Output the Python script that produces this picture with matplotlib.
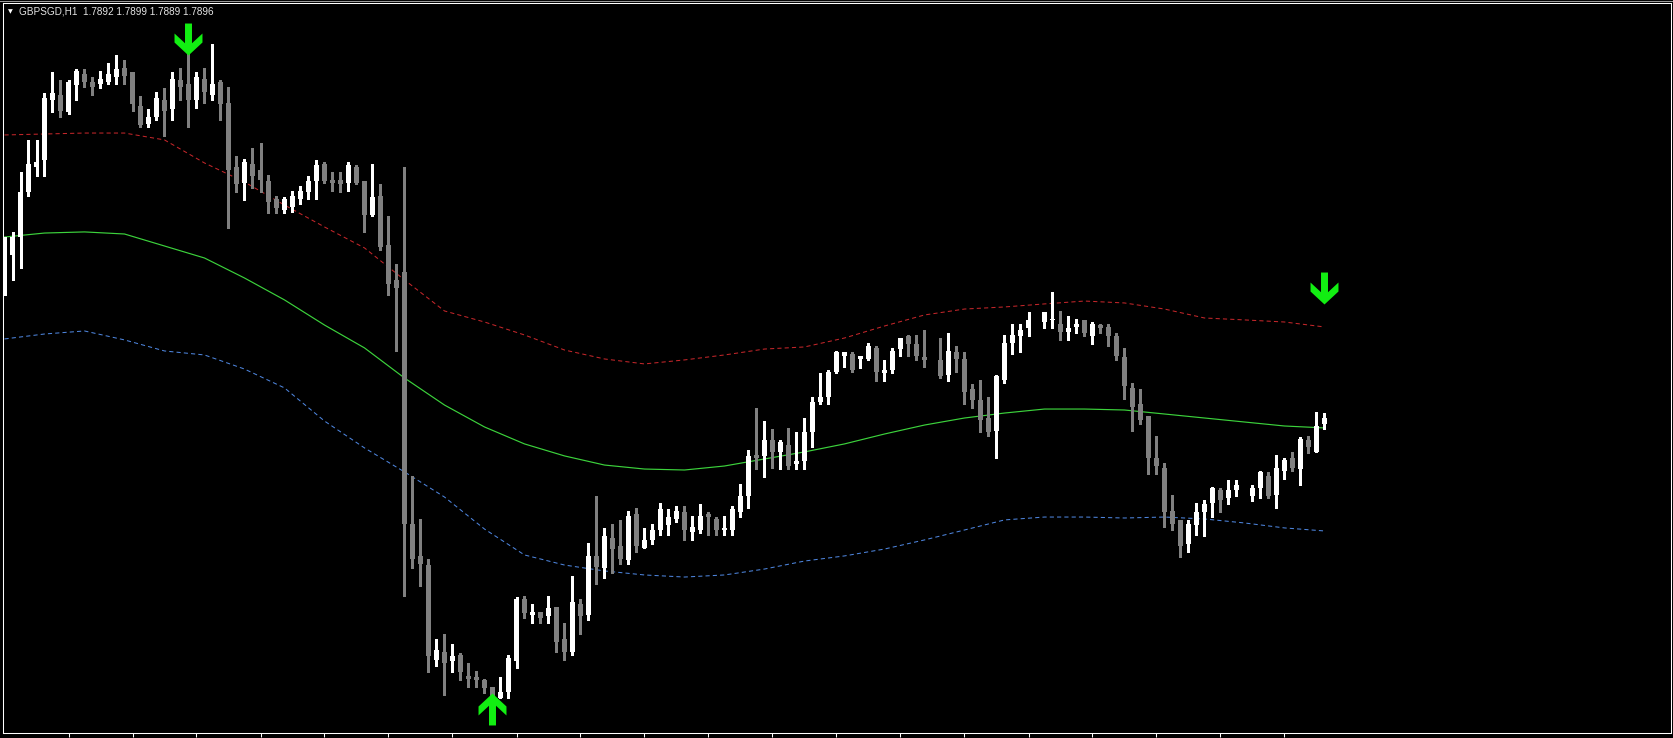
import numpy as np
import matplotlib
matplotlib.use("Agg")
import matplotlib.pyplot as plt
from matplotlib.path import Path
from matplotlib.lines import Line2D

nan = float("nan")

symbol = "GBPSGD,H1"

opens = [1.7974,1.7998,1.8009,1.8037,1.8053,1.8057,1.8095,1.8098,1.8087,1.8104,
 1.8111,1.8106,1.8105,1.8106,1.8109,1.8115,1.8112,1.8091,1.8080,1.8084,
 1.8095,1.8089,1.8107,1.8105,1.8095,1.8108,1.8098,1.8106,1.8093,1.8053,
 1.8043,1.8055,1.8051,1.8044,1.8033,1.8026,1.8028,1.8033,1.8037,1.8044,
 1.8055,1.8045,1.8045,1.8043,1.8053,1.8044,1.8023,1.8035,1.8004,1.7982,
 1.7987,1.7830,1.7810,1.7804,1.7745,1.7750,1.7744,1.7748,1.7735,1.7734,
 1.7732,1.7728,1.7721,1.7725,1.7744,1.7783,1.7773,1.7775,1.7772,1.7778,
 1.7758,1.7750,1.7780,1.7773,1.7810,1.7802,1.7821,1.7816,1.7807,1.7836,
 1.7815,1.7820,1.7826,1.7829,1.7833,1.7837,1.7825,1.7826,1.7836,1.7833,
 1.7826,1.7826,1.7837,1.7847,1.7873,1.7872,1.7882,1.7875,1.7879,1.7867,
 1.7869,1.7887,1.7906,1.7909,1.7925,1.7935,1.7936,1.7933,1.7933,1.7940,
 1.7924,1.7926,1.7939,1.7947,1.7942,1.7934,nan,1.7932,1.7923,1.7937,
 1.7933,1.7914,1.7907,1.7896,1.7888,1.7920,1.7943,1.7947,1.7952,nan,
 1.7956,1.7957,1.7955,1.7950,1.7953,1.7957,1.7947,1.7954,1.7953,1.7947,
 1.7934,1.7915,1.7905,1.7897,1.7871,1.7865,1.7838,1.7832,1.7817,1.7829,
 1.7837,1.7843,1.7851,1.7846,1.7851,nan,1.7847,1.7852,1.7860,1.7848,
 1.7863,1.7871,1.7864,1.7882,1.7875,1.7892]

highs = [1.8009,1.8012,1.8050,1.8070,1.8070,1.8099,1.8112,1.8107,1.8107,1.8114,
 1.8114,1.8109,1.8113,1.8118,1.8123,1.8120,1.8112,1.8097,1.8089,1.8100,
 1.8102,1.8112,1.8115,1.8130,1.8112,1.8115,1.8130,1.8107,1.8103,1.8060,
 1.8058,1.8065,1.8068,1.8048,1.8035,1.8034,1.8038,1.8041,1.8047,1.8057,
 1.8056,1.8050,1.8050,1.8056,1.8054,1.8044,1.8055,1.8042,1.8022,1.7992,
 1.8053,1.7860,1.7833,1.7808,1.7758,1.7761,1.7755,1.7749,1.7743,1.7738,
 1.7733,1.7728,1.7734,1.7748,1.7784,1.7785,1.7780,1.7775,1.7785,1.7778,
 1.7768,1.7797,1.7783,1.7818,1.7847,1.7827,1.7830,1.7832,1.7838,1.7840,
 1.7827,1.7830,1.7843,1.7839,1.7841,1.7841,1.7835,1.7842,1.7837,1.7834,
 1.7835,1.7841,1.7855,1.7876,1.7902,1.7894,1.7889,1.7882,1.7890,1.7887,
 1.7896,1.7909,1.7924,1.7926,1.7938,1.7937,1.7937,1.7935,1.7943,1.7941,
 1.7932,1.7940,1.7946,1.7948,1.7948,1.7951,nan,1.7946,1.7949,1.7941,
 1.7937,1.7917,1.7920,1.7909,1.7923,1.7948,1.7955,1.7955,1.7962,nan,
 1.7962,1.7975,1.7963,1.7960,1.7958,1.7957,1.7956,1.7955,1.7955,1.7949,
 1.7940,1.7918,1.7914,1.7897,1.7885,1.7868,1.7848,1.7832,1.7832,1.7843,
 1.7845,1.7853,1.7852,1.7857,1.7857,nan,1.7854,1.7863,1.7862,1.7873,
 1.7871,1.7875,1.7884,1.7885,1.7900,1.7899]

lows = [1.7973,1.7982,1.7990,1.8035,1.8047,1.8047,1.8087,1.8084,1.8086,1.8095,
 1.8103,1.8098,1.8102,1.8105,1.8105,1.8105,1.8088,1.8078,1.8078,1.8082,
 1.8072,1.8082,1.8095,1.8078,1.8090,1.8093,1.8095,1.8082,1.8015,1.8037,
 1.8032,1.8040,1.8037,1.8024,1.8024,1.8024,1.8025,1.8030,1.8033,1.8033,
 1.8043,1.8038,1.8037,1.8038,1.8042,1.8012,1.8022,1.8001,1.7973,1.7938,
 1.7785,1.7802,1.7791,1.7737,1.7741,1.7723,1.7737,1.7732,1.7728,1.7728,
 1.7724,1.7720,1.7721,1.7721,1.7740,1.7771,1.7768,1.7768,1.7768,1.7750,
 1.7745,1.7748,1.7761,1.7770,1.7792,1.7796,1.7799,1.7805,1.7805,1.7812,
 1.7815,1.7817,1.7823,1.7823,1.7831,1.7820,1.7820,1.7824,1.7823,1.7823,
 1.7823,1.7823,1.7834,1.7840,1.7864,1.7859,1.7865,1.7864,1.7864,1.7864,
 1.7864,1.7878,1.7905,1.7905,1.7924,1.7928,1.7925,1.7927,1.7932,1.7919,
 1.7919,1.7924,1.7935,1.7935,1.7932,1.7928,nan,1.7921,1.7919,1.7925,
 1.7905,1.7902,1.7887,1.7885,1.7871,1.7918,1.7936,1.7937,1.7947,nan,
 1.7952,1.7952,1.7945,1.7945,1.7949,1.7947,1.7942,1.7949,1.7941,1.7932,
 1.7908,1.7888,1.7892,1.7861,1.7861,1.7828,1.7826,1.7809,1.7812,1.7823,
 1.7822,1.7834,1.7837,1.7842,1.7847,nan,1.7844,1.7846,1.7846,1.7840,
 1.7858,1.7863,1.7854,1.7874,1.7875,1.7889]

closes = [1.7999,1.8009,1.8037,1.8055,1.8056,1.8096,1.8099,1.8088,1.8106,1.8113,
 1.8106,1.8103,1.8108,1.8111,1.8114,1.8110,1.8092,1.8079,1.8084,1.8096,
 1.8088,1.8108,1.8103,1.8095,1.8109,1.8100,1.8105,1.8092,1.8051,1.8042,
 1.8056,1.8047,1.8045,1.8031,1.8027,1.8033,1.8035,1.8038,1.8044,1.8054,
 1.8044,1.8043,1.8042,1.8054,1.8043,1.8023,1.8034,1.8003,1.7980,1.7977,
 1.7830,1.7808,1.7805,1.7747,1.7751,1.7743,1.7747,1.7737,1.7733,1.7732,
 1.7727,1.7722,1.7725,1.7746,1.7783,1.7774,1.7775,1.7771,1.7777,1.7756,
 1.7750,1.7781,1.7772,1.7810,1.7803,1.7822,1.7814,1.7808,1.7835,1.7816,
 1.7820,1.7826,1.7839,1.7834,1.7838,1.7826,1.7828,1.7835,1.7834,1.7826,
 1.7827,1.7839,1.7847,1.7872,1.7871,1.7882,1.7875,1.7881,1.7866,1.7869,
 1.7887,1.7906,1.7909,1.7925,1.7937,1.7937,1.7926,1.7935,1.7941,1.7925,
 1.7926,1.7938,1.7946,1.7942,1.7935,1.7932,nan,1.7922,1.7938,1.7933,
 1.7912,1.7907,1.7895,1.7887,1.7922,1.7943,1.7948,1.7951,1.7957,nan,
 1.7962,1.7958,1.7950,1.7952,1.7955,1.7949,1.7955,1.7952,1.7947,1.7935,
 1.7916,1.7903,1.7895,1.7871,1.7866,1.7837,1.7830,1.7816,1.7830,1.7837,
 1.7842,1.7852,1.7845,1.7851,1.7854,nan,1.7852,1.7862,1.7847,1.7865,
 1.7870,1.7865,1.7883,1.7878,1.7891,1.7896]

# indicator band values, read every 5 bars
band_bars = [0, 5, 10, 15, 20, 25, 30, 35, 40, 45, 50, 55, 60, 65, 70, 75, 80,
             85, 90, 95, 100, 105, 110, 115, 120, 125, 130, 135, 140, 145, 150,
             155, 160, 165]
upper_band = [1.80729, 1.80735, 1.80741, 1.80741, 1.80698, 1.80554, 1.80435,
              1.80291, 1.80154, 1.80023, 1.79823, 1.79629, 1.79560, 1.79479,
              1.79385, 1.79329, 1.79298, 1.79323, 1.79354, 1.79391, 1.79404,
              1.79460, 1.79535, 1.79604, 1.79641, 1.79654, 1.79673, 1.79691,
              1.79679, 1.79641, 1.79585, 1.79573, 1.79560, 1.79529]
middle_line = [1.80091, 1.80116, 1.80123, 1.80110, 1.80035, 1.79960, 1.79835,
               1.79698, 1.79541, 1.79398, 1.79210, 1.79041, 1.78904, 1.78798,
               1.78723, 1.78666, 1.78641, 1.78635, 1.78660, 1.78704, 1.78748,
               1.78798, 1.78860, 1.78916, 1.78960, 1.78991, 1.79016, 1.79016,
               1.79010, 1.78985, 1.78960, 1.78935, 1.78910, 1.78898]
lower_band = [1.79454, 1.79485, 1.79504, 1.79448, 1.79379, 1.79354, 1.79266,
              1.79148, 1.78941, 1.78773, 1.78623, 1.78466, 1.78266, 1.78104,
              1.78041, 1.78004, 1.77979, 1.77966, 1.77979, 1.78016, 1.78066,
              1.78098, 1.78141, 1.78198, 1.78260, 1.78323, 1.78341, 1.78341,
              1.78335, 1.78341, 1.78329, 1.78304, 1.78273, 1.78254]

# signal arrows
sell_bars = [23, 165]
sell_prices = [1.81330, 1.79771]
buy_bars = [61]
buy_prices = [1.77143]

tick_bars = [8, 16, 24, 32, 40, 48, 56, 64, 72, 80, 88, 96, 104, 112, 120, 128,
             136, 144, 152, 160]

# ---------------------------------------------------------------------------
W, H = 1673, 738
fig = plt.figure(figsize=(W / 100, H / 100), dpi=100, facecolor="black")
ax = fig.add_axes([3 / W, 5 / H, 1668 / W, 730 / H], facecolor="black")

o = np.array(opens, dtype=float)
h = np.array(highs, dtype=float)
l = np.array(lows, dtype=float)
c = np.array(closes, dtype=float)
x = np.arange(len(o))
valid = ~np.isnan(o)
bull = valid & (c >= o)
bear = valid & (c < o)

BULL = "#ffffff"
BEAR = "#808080"

# indicator lines
ax.plot(band_bars, upper_band, color="#c3262a", lw=0.75, dashes=(4, 3), zorder=2)
ax.plot(band_bars, lower_band, color="#4d84dc", lw=0.75, dashes=(4, 3), zorder=2)
ax.plot(band_bars, middle_line, color="#3cd23c", lw=0.85, zorder=2)

# wicks
wick_colors = [BULL if b else BEAR for b in bull[valid]]
ax.vlines(x[valid], l[valid], h[valid], colors=wick_colors, lw=0.75,
          antialiased=False, zorder=3)

# bodies
bottom = np.minimum(o, c)
height = np.maximum(np.abs(c - o), 0.00007)
ax.bar(x[bull], height[bull], bottom=bottom[bull], width=0.625, color=BULL,
       linewidth=0, antialiased=False, zorder=4)
ax.bar(x[bear], height[bear], bottom=bottom[bear], width=0.625, color=BEAR,
       linewidth=0, antialiased=False, zorder=4)

# arrow markers
down_verts = [(-3.5, 16), (3.5, 16), (3.5, -3.75), (14, 6), (14, -3), (0, -16),
              (-14, -3), (-14, 6), (-3.5, -3.75), (-3.5, 16)]
up_verts = [(vx, -vy) for vx, vy in down_verts]
codes = [Path.MOVETO] + [Path.LINETO] * (len(down_verts) - 2) + [Path.CLOSEPOLY]
down_arrow = Path(down_verts, codes)
up_arrow = Path(up_verts, codes)
ARROW = "#12ee12"
ax.plot(sell_bars, sell_prices, linestyle="none", marker=down_arrow,
        markersize=23, markerfacecolor=ARROW, markeredgewidth=0, zorder=5)
ax.plot(buy_bars, buy_prices, linestyle="none", marker=up_arrow,
        markersize=23, markerfacecolor=ARROW, markeredgewidth=0, zorder=5)

# axes limits (8 px per bar, bar centres on pixel centres)
ax.set_xlim(-0.1875, 208.3125)
ax.set_ylim(1.7699125, 1.8155375)

ax.set_xticks(tick_bars)
ax.set_yticks([])
ax.tick_params(axis="x", colors="white", length=3, width=0.75,
               direction="out", labelbottom=False)
for s in ax.spines.values():
    s.set_color("white")
    s.set_linewidth(0.75)

# window top edge
fig.add_artist(Line2D([0, 1], [1 - 0.6 / H, 1 - 0.6 / H],
                      transform=fig.transFigure, color="#9a9a9a", lw=0.75))

# header text
fig.text(7.5 / W, 1 - 11.5 / H, "\u25bc", fontsize=4.5, color="white",
         family="DejaVu Sans", va="center", ha="left")
header = "%s  %.4f %.4f %.4f %.4f" % (symbol, opens[-1], highs[-1], lows[-1], closes[-1])
fig.text(19 / W, 1 - 11 / H, header, fontsize=7.2, color="#e4e4e4",
         family="Liberation Sans", va="center", ha="left")

fig.savefig("out.png", dpi=100, facecolor="black")
